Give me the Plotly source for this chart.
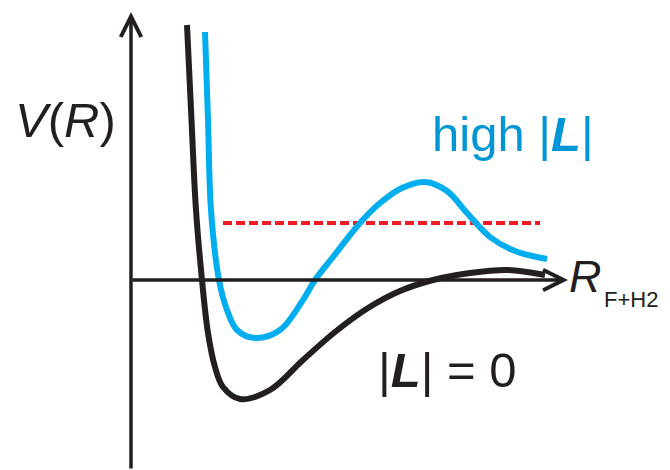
import plotly.graph_objects as go

# Potential curves (R in arbitrary units, V in arbitrary units)
R_L0 = [1.12, 1.21, 1.30, 1.42, 1.54, 1.68, 1.84, 2.18, 2.78, 3.44, 4.08, 4.74, 5.38, 6.04, 6.78, 7.54, 8.28]
V_L0 = [5.10, 3.20, 1.40, 0.00, -1.06, -1.74, -2.14, -2.38, -2.20, -1.60, -1.04, -0.56, -0.22, 0.00, 0.14, 0.20, 0.10]

R_high = [1.48, 1.54, 1.60, 1.76, 1.92, 2.12, 2.48, 2.98, 3.44, 3.68, 4.04, 4.58, 4.98, 5.42, 5.88, 6.32, 6.72, 7.18, 7.68, 8.32]
V_high = [4.96, 3.20, 1.40, 0.00, -0.60, -1.00, -1.16, -1.00, -0.40, 0.00, 0.46, 1.14, 1.54, 1.84, 1.96, 1.78, 1.34, 0.86, 0.58, 0.42]

# Collision energy level (red dashed)
E_level = 1.14
R_level = [1.84, 8.18]

# Axis extents
R_axis_end = 8.74
V_axis_top = 5.36
V_axis_bottom = -3.8

BLACK = "#231F20"
BLUE = "#00AEEF"
BLUE_TEXT = "#0096D6"
RED = "#ED1C24"
FONT = "Liberation Sans, Arial, sans-serif"

fig = go.Figure()

fig.add_trace(go.Scatter(x=R_level, y=[E_level] * len(R_level), mode="lines",
                         line=dict(color=RED, width=4, dash="9px,4px"), hoverinfo="skip"))
fig.add_trace(go.Scatter(x=R_L0, y=V_L0, mode="lines", line=dict(color=BLACK, width=6, shape="spline", smoothing=1.0),
                         hoverinfo="skip"))
fig.add_trace(go.Scatter(x=R_high, y=V_high, mode="lines", line=dict(color=BLUE, width=6, shape="spline", smoothing=1.0),
                         hoverinfo="skip"))

annotations = [
    # horizontal axis with arrow
    dict(x=R_axis_end, y=0, ax=0, ay=0, xref="x", yref="y", axref="x", ayref="y",
         showarrow=True, arrowhead=5, arrowsize=1.15, arrowwidth=3.5, arrowcolor=BLACK, text=""),
    # vertical axis with arrow
    dict(x=0, y=V_axis_top, ax=0, ay=V_axis_bottom, xref="x", yref="y", axref="x", ayref="y",
         showarrow=True, arrowhead=5, arrowsize=1.15, arrowwidth=3.5, arrowcolor=BLACK, text=""),
    dict(x=-2.36, y=3.2, xref="x", yref="y", xanchor="left", yanchor="middle", showarrow=False,
         text="<i>V</i>(<i>R</i>)", font=dict(family=FONT, size=49, color=BLACK)),
    dict(x=5.98, y=2.92, xref="x", yref="y", xanchor="left", yanchor="middle", showarrow=False,
         text="high |<b><i>L</i></b>|", font=dict(family=FONT, size=49, color=BLUE_TEXT)),
    dict(x=4.9, y=-1.8, xref="x", yref="y", xanchor="left", yanchor="middle", showarrow=False,
         text="|<b><i>L</i></b>| = 0", font=dict(family=FONT, size=49, color=BLACK)),
    dict(x=8.72, y=0.08, xref="x", yref="y", xanchor="left", yanchor="middle", showarrow=False,
         text="<i>R</i>", font=dict(family=FONT, size=45, color=BLACK)),
    dict(x=9.42, y=-0.38, xref="x", yref="y", xanchor="left", yanchor="middle", showarrow=False,
         text="F+H2", font=dict(family=FONT, size=22, color=BLACK)),
]

fig.update_layout(
    width=670, height=470,
    margin=dict(l=0, r=0, t=0, b=0),
    paper_bgcolor="white", plot_bgcolor="white",
    showlegend=False,
    xaxis=dict(range=[-2.62, 10.78], visible=False, fixedrange=True),
    yaxis=dict(range=[-3.8, 5.6], visible=False, fixedrange=True),
    annotations=annotations,
)

fig.write_html("out.html", config=dict(displayModeBar=False),
               post_script="document.body.style.margin='0';document.body.style.overflow='hidden';")
